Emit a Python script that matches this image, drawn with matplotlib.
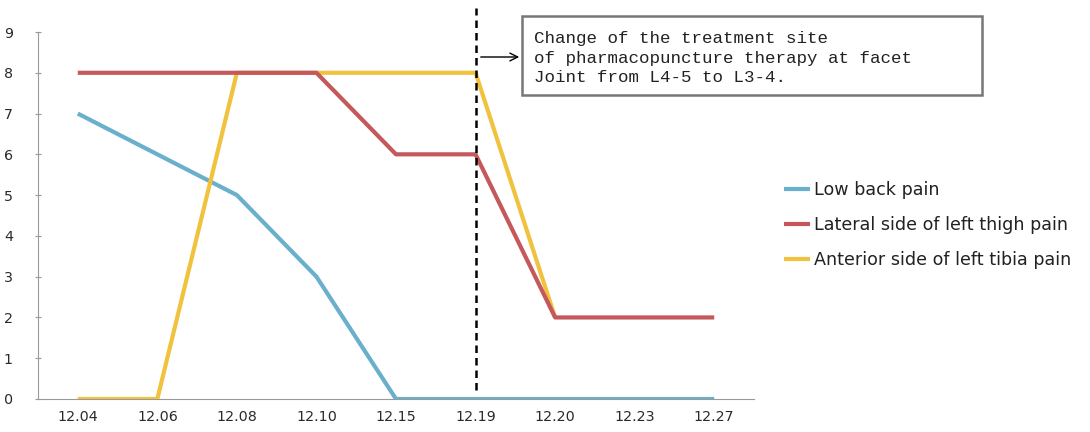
import matplotlib
matplotlib.use("Agg")
import matplotlib.pyplot as plt
import numpy as np

dates = ["12.04", "12.06", "12.08", "12.10", "12.15", "12.19", "12.20", "12.23", "12.27"]
low_back = [7, 6, 5, 3, 0, 0, 0, 0, 0]
thigh = [8, 8, 8, 8, 6, 6, 2, 2, 2]
tibia = [0, 0, 8, 8, 8, 8, 2, np.nan, np.nan]
yticks = list(range(0, 10))

W, H = 1090, 432
fig = plt.figure(figsize=(W / 100, H / 100), dpi=100)
ax = fig.add_axes([38 / W, 1 - 399 / H, (754 - 38) / W, (399 - 32) / H])

x = np.arange(len(dates))
ax.plot(x, low_back, color="#6AAFCB", lw=3.0, label="Low back pain", solid_capstyle="butt", zorder=3)
ax.plot(x, tibia, color="#F0C23E", lw=3.0, label="Anterior side of left tibia pain", solid_capstyle="butt", zorder=4)
ax.plot(x, thigh, color="#C4585A", lw=3.0, label="Lateral side of left thigh pain", solid_capstyle="butt", zorder=5)

ax.set_xlim(-0.5, len(dates) - 0.5)
ax.set_ylim(0, 9)
ax.set_xticks(x)
ax.set_xticklabels(dates, fontsize=10.3, color="#2a2a2a", family="DejaVu Sans")
ax.set_yticks(yticks)
ax.set_yticklabels([str(v) for v in yticks], fontsize=10.3, color="#2a2a2a", family="DejaVu Sans")
for s in ["top", "right"]:
    ax.spines[s].set_visible(False)
ax.spines["left"].set_color("#999999")
ax.spines["bottom"].set_color("#999999")
ax.tick_params(axis="x", length=0, pad=8)
ax.tick_params(axis="y", length=4, direction="inout", color="#999999", pad=16)

# dashed vertical line at 12.19
ax.plot([5, 5], [0.22, 9.59], color="black", lw=1.8, ls=(0, (3, 2)), clip_on=False, zorder=6)

# annotation box
ax.annotate("", xy=(522 / W, 1 - 57 / H), xycoords="figure fraction",
            xytext=(478 / W, 1 - 57 / H), textcoords="figure fraction",
            arrowprops=dict(arrowstyle="->", color="black", lw=1.0, mutation_scale=14))
fig.patches.append(matplotlib.patches.Rectangle((522 / W, 1 - 95 / H), (982 - 522) / W, (95 - 16) / H,
                                                transform=fig.transFigure, facecolor="white",
                                                edgecolor="#777777", lw=1.8))
fig.text(534 / W, 1 - 58 / H,
         "Change of the treatment site\nof pharmacopuncture therapy at facet\nJoint from L4-5 to L3-4.",
         family="Liberation Mono", fontsize=12.6, va="center", ha="left", linespacing=1.35, color="#222222")

handles, labels = ax.get_legend_handles_labels()
order = [0, 2, 1]
leg = fig.legend([handles[i] for i in order], [labels[i] for i in order],
                 loc="center left", bbox_to_anchor=(768 / W, 1 - 225 / H), frameon=False,
                 prop={"family": "DejaVu Sans", "size": 12.6}, handlelength=1.5, handletextpad=0.25,
                 labelspacing=0.95)
for t in leg.get_texts():
    t.set_color("#222222")

fig.savefig("out.png", dpi=100)
